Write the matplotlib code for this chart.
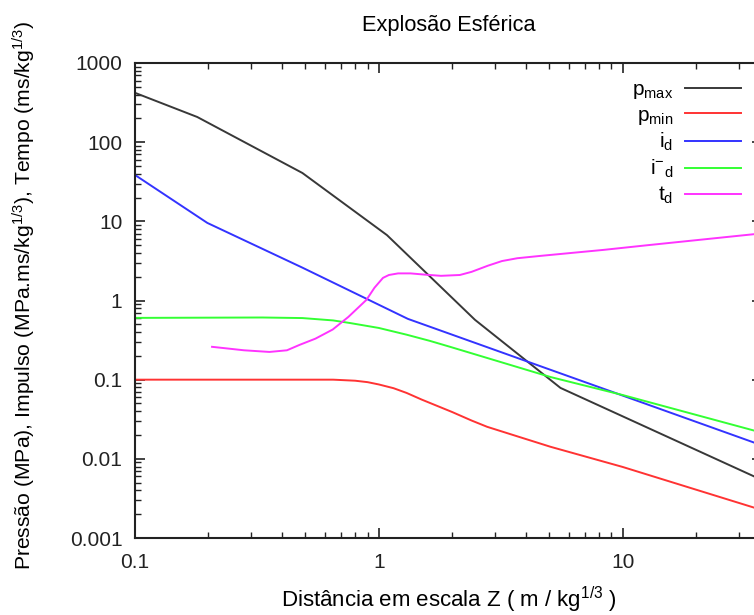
import matplotlib
matplotlib.use("Agg")
import matplotlib.pyplot as plt
from matplotlib.ticker import LogLocator, FuncFormatter, NullFormatter

plt.rcParams['font.family'] = ['Liberation Sans', 'DejaVu Sans']
plt.rcParams['mathtext.fontset'] = 'custom'
plt.rcParams['mathtext.rm'] = 'Liberation Sans'
plt.rcParams['mathtext.it'] = 'Liberation Sans'

# data (Z in m/kg^1/3)
z_pmax = [0.1, 0.18, 0.486, 1.08, 2.48, 5.56, 34.9, 40]
pmax = [420, 208, 40.8, 6.7, 0.57, 0.0787, 0.00593, 0.0048]

z_pmin = [0.1, 0.65, 0.8, 0.9, 1.0, 1.15, 1.3, 1.5, 2.0, 2.4, 2.78, 3.5, 5.06, 10, 34.9, 40]
pmin = [0.1, 0.1, 0.097, 0.093, 0.087, 0.078, 0.068, 0.056, 0.039, 0.0305, 0.0254, 0.0203,
        0.0142, 0.0079, 0.0024, 0.0021]

z_id = [0.1, 0.198, 0.486, 1.316, 10, 34.9, 40]
i_d = [38.5, 9.55, 2.6, 0.586, 0.063, 0.0159, 0.0139]

z_ineg = [0.1, 0.333, 0.486, 0.65, 0.76, 1.0, 1.3, 1.62, 1.96, 5.06, 10, 34.9, 40]
i_neg = [0.603, 0.61, 0.60, 0.56, 0.52, 0.45, 0.37, 0.309, 0.26, 0.108, 0.064, 0.0226, 0.020]

z_td = [0.207, 0.28, 0.356, 0.42, 0.473, 0.55, 0.647, 0.75, 0.89, 0.96, 1.04, 1.1, 1.2,
        1.35, 1.55, 1.8, 2.15, 2.4, 2.8, 3.2, 3.7, 4.6, 8.36, 12.7, 34.9, 40]
t_d = [0.26, 0.235, 0.224, 0.235, 0.275, 0.33, 0.43, 0.62, 1.02, 1.45, 1.93, 2.1, 2.2,
       2.2, 2.12, 2.05, 2.1, 2.3, 2.75, 3.15, 3.42, 3.66, 4.36, 5.0, 6.9, 7.1]

fig = plt.figure(figsize=(7.54, 6.15), dpi=100)
ax = fig.add_axes([135/754, (615-538)/615, (762-135)/754, (538-63)/615])

lw = 1.4
ax.plot(z_pmax, pmax, color='#383838', lw=lw, label=r'p$_{\mathrm{max}}$')
ax.plot(z_pmin, pmin, color='#ff3333', lw=lw, label=r'p$_{\mathrm{min}}$')
ax.plot(z_id, i_d, color='#3333ff', lw=lw, label=r'i$_{\mathrm{d}}$')
ax.plot(z_ineg, i_neg, color='#33ff33', lw=lw, label=r'i$^{-}$$_{\mathrm{d}}$')
ax.plot(z_td, t_d, color='#ff33ff', lw=lw, label=r't$_{\mathrm{d}}$')

ax.set_xscale('log')
ax.set_yscale('log')
ax.set_xlim(0.1, 37.3)
ax.set_ylim(0.001, 1000)

fmt = FuncFormatter(lambda v, p: '%g' % v)
ax.xaxis.set_major_locator(LogLocator(base=10))
ax.yaxis.set_major_locator(LogLocator(base=10))
ax.xaxis.set_minor_locator(LogLocator(base=10, subs=range(2, 10)))
ax.yaxis.set_minor_locator(LogLocator(base=10, subs=range(2, 10)))
ax.xaxis.set_major_formatter(fmt)
ax.yaxis.set_major_formatter(fmt)
ax.xaxis.set_minor_formatter(NullFormatter())
ax.yaxis.set_minor_formatter(NullFormatter())

ax.tick_params(which='both', direction='in', top=True, right=True, labelsize=15, colors='#222222')
ax.tick_params(which='major', length=7, width=1.2)
ax.tick_params(which='minor', length=4.5, width=1.0)
ax.tick_params(axis='x', pad=11)
ax.tick_params(axis='y', pad=9)
for s in ax.spines.values():
    s.set_linewidth(1.5)
    s.set_color('#222222')

ax.set_title('Explosão Esférica', fontsize=15.7, pad=23)
ax.set_xlabel(r'Distância em escala Z ( m / kg$^{1/3}$ )', fontsize=16, labelpad=9)
fig.text(24/754, 1 - 295/615,
         r'Pressão (MPa), Impulso (MPa.ms/kg$^{1/3}$), Tempo (ms/kg$^{1/3}$)',
         fontsize=15.2, rotation=90, ha='center', va='center')

leg = ax.legend(loc='upper right', bbox_to_anchor=(741/754, 1 - 80/615),
                bbox_transform=fig.transFigure, frameon=False, markerfirst=False,
                fontsize=15, handlelength=2.7, handletextpad=0.55, labelspacing=0.22,
                borderpad=0, borderaxespad=0)
for t in leg.get_texts():
    t.set_ha('right')

fig.savefig('out.png', dpi=100)
